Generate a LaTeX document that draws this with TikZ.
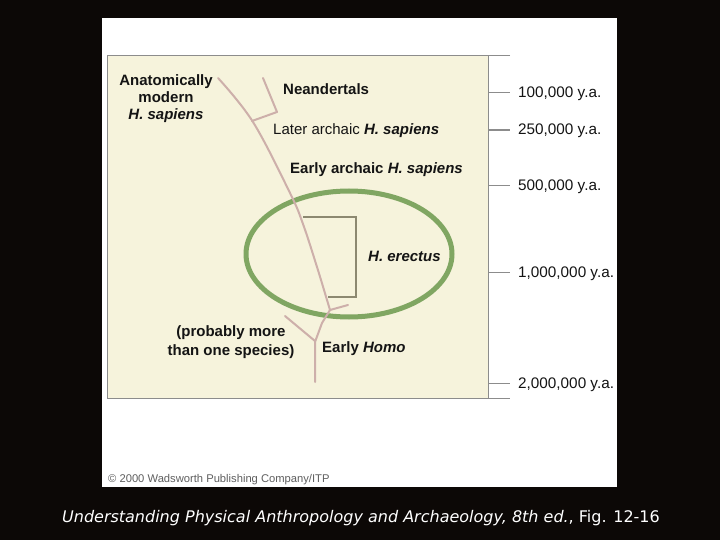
\documentclass[tikz,border=0pt]{standalone}
\usepackage{fontspec}
\setmainfont{Liberation Sans}
\newfontfamily\capfont{DejaVu Sans}
\definecolor{bgc}{RGB}{12,8,6}
\definecolor{cream}{RGB}{246,243,220}
\definecolor{boxgray}{RGB}{140,140,140}
\definecolor{treec}{RGB}{205,175,170}
\definecolor{brackc}{RGB}{140,136,112}
\definecolor{ellc}{RGB}{128,166,98}
\definecolor{txt}{RGB}{20,20,20}
\definecolor{copyc}{RGB}{95,95,95}
\tikzset{
  lbl/.style={anchor=base west, inner sep=0pt, text=txt, font=\fontsize{15}{17}\selectfont\bfseries},
  clbl/.style={anchor=base, inner sep=0pt, text=txt, font=\fontsize{15}{17}\selectfont\bfseries},
  datelbl/.style={anchor=base west, inner sep=0pt, text=txt, font=\fontsize{15.3}{17}\selectfont},
  tree/.style={draw=treec, line width=2pt, line cap=round, line join=round},
  tick/.style={draw=boxgray, line width=1pt}
}
\begin{document}
\begin{tikzpicture}[x=1pt,y=-1pt]
\useasboundingbox (0,0) rectangle (720,540);
\fill[bgc] (0,0) rectangle (720,540);
% white panel
\fill[white] (102,18) rectangle (617,487);
% cream box
\fill[cream] (107,56) rectangle (488,398);
\draw[boxgray, line width=1pt] (510,56) -- (107,56) -- (107,398) -- (510,398);
\draw[boxgray, line width=1pt] (488,56) -- (488,398);
% ticks
\coordinate (t1a) at (488,93);  \coordinate (t1b) at (510,93);
\coordinate (t2a) at (488,130); \coordinate (t2b) at (510,130);
\coordinate (t3a) at (488,186); \coordinate (t3b) at (510,186);
\coordinate (t4a) at (488,272); \coordinate (t4b) at (510,272);
\coordinate (t5a) at (488,383); \coordinate (t5b) at (510,383);
\draw[tick] (t1a) -- (t1b);
\draw[tick, line width=2.5pt] (t2a) -- (t2b);
\draw[tick] (t3a) -- (t3b);
\draw[tick] (t4a) -- (t4b);
\draw[tick] (t5a) -- (t5b);
\node[datelbl] (d1) at (518,98) {100,000 y.a.};
\node[datelbl] (d2) at (518,135) {250,000 y.a.};
\node[datelbl] (d3) at (518,191) {500,000 y.a.};
\node[datelbl] (d4) at (518,277) {1,000,000 y.a.};
\node[datelbl] (d5) at (518,388) {2,000,000 y.a.};
% green ellipse
\draw[ellc, line width=5pt] (349,254) ellipse [x radius=103, y radius=63];
% tree
\draw[tree] plot[smooth, tension=0.6] coordinates {(218,78) (253,122) (290,193) (303,224) (317,267) (327,300) (330,310)};
\draw[tree] (330,310) -- (348,305);
\draw[tree] (330,310) -- (322,323) -- (315,342) -- (315,382);
\draw[tree] (315,341) -- (285,316);
\draw[tree] (263,78) -- (277,112) -- (252,121);
% bracket
\draw[brackc, line width=2pt] (303,217) -- (356,217) -- (356,297) -- (328,297);
% labels
\node[clbl] (am1) at (166,86) {Anatomically};
\node[clbl] (am2) at (166,103) {modern};
\node[clbl] (am3) at (166,120) {\itshape H. sapiens};
\node[lbl] (ne) at (283,95) {Neandertals};
\node[lbl] (la) at (273,135) {\mdseries Later archaic \bfseries\itshape H. sapiens};
\node[lbl] (ea) at (290,174) {Early archaic \itshape H. sapiens};
\node[lbl] (he) at (368,261) {\itshape H. erectus};
\node[clbl] (pm1) at (231,336) {(probably more};
\node[clbl] (pm2) at (231,355) {than one species)};
\node[lbl] (eh) at (322,352) {Early \itshape Homo};
% copyright
\node[anchor=base west, inner sep=0pt, text=copyc, font=\fontsize{11.2}{13}\selectfont] (cp) at (108,482) {© 2000 Wadsworth Publishing Company/ITP};
% caption
\node[anchor=base, inner sep=0pt, text=white, font=\capfont\fontsize{16}{18}\selectfont] (cap) at (361,522) {\itshape Understanding Physical Anthropology and Archaeology, 8th ed.\upshape, Fig. 12-16};
\end{tikzpicture}
\end{document}
